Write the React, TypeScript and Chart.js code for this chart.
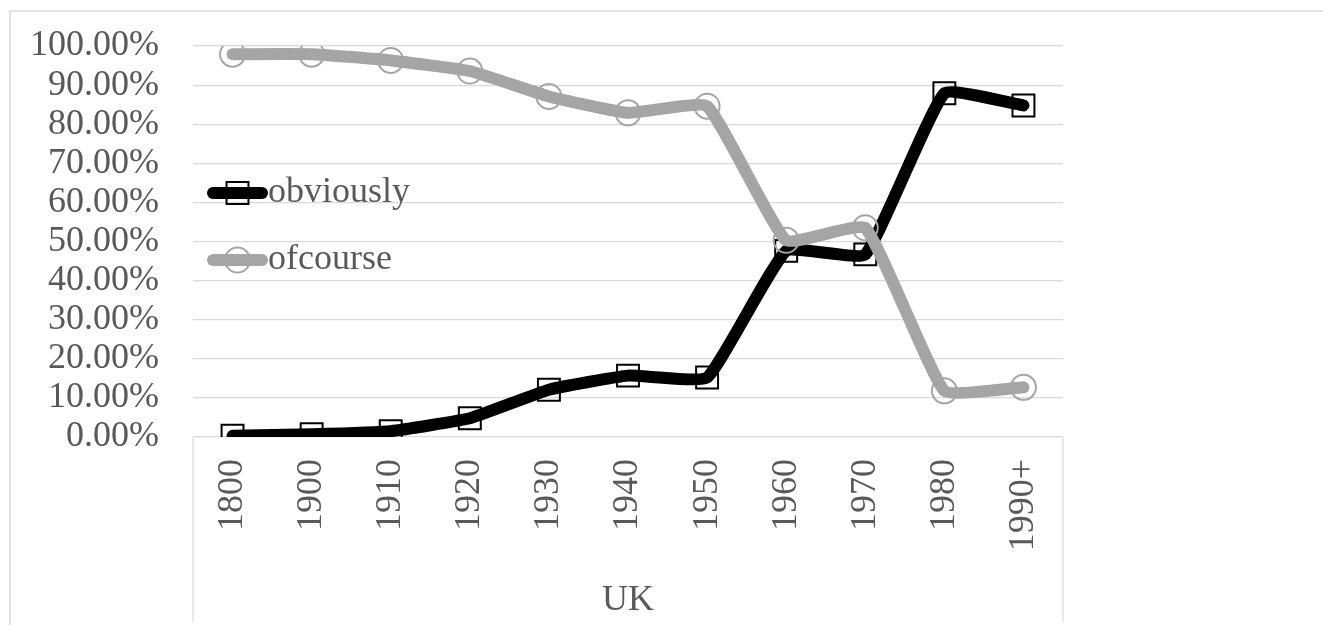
import React, { useEffect, useRef } from 'react';
import { Chart, registerables } from 'chart.js';

Chart.register(...registerables);

// Decades on the category axis
const categories = ['1800', '1900', '1910', '1920', '1930', '1940', '1950', '1960', '1970', '1980', '1990+'];

// Share of each form per decade, in percent
const obviouslyValues = [0.3, 0.7, 1.5, 4.8, 12.1, 15.7, 15.2, 47.6, 46.7, 87.9, 84.8];
const ofcourseValues = [97.9, 97.9, 96.3, 93.6, 87.1, 82.9, 84.6, 50.3, 53.5, 11.8, 12.7];

const seriesNames = ['obviously', 'ofcourse'];
const axisTitle = 'UK';

// Value axis range and step
const yMin = 0;
const yMax = 100;
const yStep = 10;

const FONT_FAMILY = '"Liberation Serif", "Times New Roman", serif';
const TEXT_COLOR = '#595959';
const GRID_COLOR = '#D9D9D9';
const BLACK = '#000000';
const GREY = '#A5A5A5';

// Outer frame, axis end rules and the in-plot legend
const framePlugin = {
  id: 'frameAndLegend',
  beforeDraw(chart: any) {
    const { ctx, chartArea, height } = chart;
    ctx.save();
    ctx.strokeStyle = GRID_COLOR;
    ctx.lineWidth = 1.5;
    ctx.strokeRect(10, 11, 2000, 2000);
    ctx.lineWidth = 1.2;
    ctx.beginPath();
    ctx.moveTo(chartArea.left, chartArea.bottom);
    ctx.lineTo(chartArea.left, height - 3);
    ctx.moveTo(chartArea.right, chartArea.bottom);
    ctx.lineTo(chartArea.right, height - 3);
    ctx.stroke();
    ctx.restore();
  },
  afterDraw(chart: any) {
    const { ctx, chartArea } = chart;
    const x0 = chartArea.left + 14;
    const x1 = chartArea.left + 75;
    const mx = (x0 + x1) / 2;
    const rows = [chartArea.top + 147, chartArea.top + 214];
    ctx.save();
    chart.data.datasets.forEach((ds: any, i: number) => {
      const y = rows[i];
      ctx.strokeStyle = ds.borderColor;
      ctx.lineWidth = ds.borderWidth;
      ctx.lineCap = 'round';
      ctx.beginPath();
      ctx.moveTo(x0 + 6, y);
      ctx.lineTo(x1 - 6, y);
      ctx.stroke();
      ctx.strokeStyle = ds.pointBorderColor;
      ctx.lineWidth = ds.pointBorderWidth;
      ctx.beginPath();
      if (ds.pointStyle === 'rect') {
        const s = ds.pointRadius * Math.SQRT1_2;
        ctx.rect(mx - s, y - s, 2 * s, 2 * s);
      } else {
        ctx.arc(mx, y, ds.pointRadius, 0, Math.PI * 2);
      }
      ctx.stroke();
      ctx.fillStyle = TEXT_COLOR;
      ctx.font = `36px ${FONT_FAMILY}`;
      ctx.textBaseline = 'middle';
      ctx.textAlign = 'left';
      ctx.fillText(ds.label, x1, y);
    });
    ctx.restore();
  },
};

export default function App() {
  const canvasRef = useRef<HTMLCanvasElement | null>(null);

  useEffect(() => {
    const canvas = canvasRef.current;
    if (!canvas) return;
    const chart = new Chart(canvas, {
      type: 'line',
      data: {
        labels: categories,
        datasets: [
          {
            label: seriesNames[0],
            data: obviouslyValues,
            borderColor: BLACK,
            borderWidth: 12,
            borderCapStyle: 'round',
            borderJoinStyle: 'round',
            tension: 0.12,
            pointStyle: 'rect',
            pointRadius: 15.5,
            pointBorderWidth: 2,
            pointBorderColor: BLACK,
            pointBackgroundColor: 'rgba(0,0,0,0)',
            order: 1,
          },
          {
            label: seriesNames[1],
            data: ofcourseValues,
            borderColor: GREY,
            borderWidth: 12,
            borderCapStyle: 'round',
            borderJoinStyle: 'round',
            tension: 0.12,
            pointStyle: 'circle',
            pointRadius: 12.5,
            pointBorderWidth: 2,
            pointBorderColor: GREY,
            pointBackgroundColor: 'rgba(0,0,0,0)',
            order: 0,
          },
        ],
      },
      options: {
        animation: false,
        responsive: true,
        maintainAspectRatio: false,
        layout: { padding: { top: 46, right: 260, left: 0, bottom: 0 } },
        plugins: {
          legend: { display: false },
          tooltip: { enabled: false },
        },
        scales: {
          x: {
            offset: true,
            grid: { display: false, drawTicks: false, offset: true },
            border: { display: false },
            ticks: {
              autoSkip: false,
              minRotation: 90,
              maxRotation: 90,
              padding: 22,
              color: TEXT_COLOR,
              font: { family: FONT_FAMILY, size: 36 },
            },
            title: {
              display: true,
              text: axisTitle,
              color: TEXT_COLOR,
              font: { family: FONT_FAMILY, size: 36 },
              padding: { top: 0, bottom: 3 },
            },
            afterFit(scale: any) {
              scale.height = 188;
            },
          },
          y: {
            min: yMin,
            max: yMax,
            grid: { color: GRID_COLOR, lineWidth: 1.2, drawTicks: false },
            border: { display: false },
            ticks: {
              stepSize: yStep,
              autoSkip: false,
              padding: 34,
              color: TEXT_COLOR,
              font: { family: FONT_FAMILY, size: 36 },
              callback: (v: any) => Number(v).toFixed(2) + '%',
            },
            afterFit(scale: any) {
              scale.width = 193;
              scale.paddingTop = 0;
              scale.paddingBottom = 0;
            },
          },
        },
      },
      plugins: [framePlugin],
    });
    return () => chart.destroy();
  }, []);

  return (
    <div style={{ position: 'fixed', left: 0, top: 0, width: 1323, height: 625, background: '#fff' }}>
      <canvas ref={canvasRef} />
    </div>
  );
}
